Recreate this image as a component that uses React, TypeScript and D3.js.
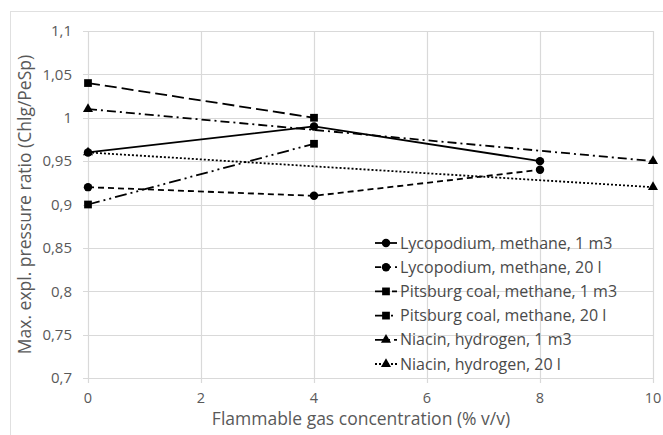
import * as d3 from "d3";
import React, { useEffect, useRef } from "react";

const seriesNames = [
  "Lycopodium, methane, 1 m3",
  "Lycopodium, methane, 20 l",
  "Pitsburg coal, methane, 1 m3",
  "Pitsburg coal, methane, 20 l",
  "Niacin, hydrogen, 1 m3",
  "Niacin, hydrogen, 20 l",
];
const lycoBigX = [0, 4, 8];
const lycoBigY = [0.96, 0.99, 0.95];
const lycoSmallX = [0, 4, 8];
const lycoSmallY = [0.92, 0.91, 0.94];
const coalBigX = [0, 4];
const coalBigY = [1.04, 1.0];
const coalSmallX = [0, 4];
const coalSmallY = [0.9, 0.97];
const niacinBigX = [0, 10];
const niacinBigY = [1.01, 0.95];
const niacinSmallX = [0, 10];
const niacinSmallY = [0.96, 0.92];

const xTicks = [0, 2, 4, 6, 8, 10];
const yTicks = [0.7, 0.75, 0.8, 0.85, 0.9, 0.95, 1, 1.05, 1.1];

const markers = ["circle", "circle", "square", "square", "triangle", "triangle"];
const dashes = ["", "6 4", "12 5", "12 4 2 4 2 4", "9 4 2 4", "2 2"];

const App: React.FC = () => {
  const ref = useRef<SVGSVGElement>(null);

  useEffect(() => {
    if (!ref.current) return;
    const width = 663;
    const height = 435;
    const svg = d3.select(ref.current).attr("width", width).attr("height", height);
    svg.selectAll("*").remove();

    const font = "'Open Sans', sans-serif";
    const grid = "#d9d9d9";
    const textColor = "#595959";

    svg.append("rect")
      .attr("x", 10.5).attr("y", 11.5)
      .attr("width", 660).attr("height", 430)
      .attr("fill", "white").attr("stroke", "#e0e0e0");

    const x = d3.scaleLinear().domain([0, 10]).range([88, 653]);
    const y = d3.scaleLinear().domain([0.7, 1.1]).range([378, 31]);

    const g = svg.append("g");

    // grid
    g.selectAll(".hg").data(yTicks).enter().append("line")
      .attr("x1", x(0) - 5).attr("x2", x(10))
      .attr("y1", d => Math.round(y(d)) + 0.5).attr("y2", d => Math.round(y(d)) + 0.5)
      .attr("stroke", grid).attr("stroke-width", 1.2);
    g.selectAll(".vg").data(xTicks).enter().append("line")
      .attr("y1", y(1.1)).attr("y2", y(0.7) + 5)
      .attr("x1", d => Math.round(x(d)) + 0.5).attr("x2", d => Math.round(x(d)) + 0.5)
      .attr("stroke", grid).attr("stroke-width", 1.2);

    // tick labels
    const fmt = (v: number) => d3.format("")(+v.toFixed(2)).replace(".", ",");
    g.selectAll(".yl").data(yTicks).enter().append("text")
      .attr("x", 72).attr("y", d => y(d))
      .attr("dy", "0.35em").attr("text-anchor", "end")
      .attr("font-family", font).attr("font-size", 15).attr("fill", textColor)
      .text(d => fmt(d));
    g.selectAll(".xl").data(xTicks).enter().append("text")
      .attr("x", d => x(d)).attr("y", 398)
      .attr("dy", "0.35em").attr("text-anchor", "middle")
      .attr("font-family", font).attr("font-size", 14.5).attr("fill", textColor)
      .text(d => String(d));

    svg.append("text")
      .attr("x", 361).attr("y", 419).attr("dy", "0.35em")
      .attr("text-anchor", "middle")
      .attr("font-family", font).attr("font-size", 17.5).attr("fill", textColor)
      .text("Flammable gas concentration (% v/v)");
    svg.append("text")
      .attr("transform", `translate(25, ${y(0.9)}) rotate(-90)`)
      .attr("dy", "0.35em")
      .attr("text-anchor", "middle")
      .attr("font-family", font).attr("font-size", 17.5).attr("fill", textColor)
      .text("Max. expl. pressure ratio (Chlg/PeSp)");

    const xs = [lycoBigX, lycoSmallX, coalBigX, coalSmallX, niacinBigX, niacinSmallX];
    const ys = [lycoBigY, lycoSmallY, coalBigY, coalSmallY, niacinBigY, niacinSmallY];
    const series = seriesNames.map((name, i) => ({
      name,
      marker: markers[i],
      dash: dashes[i],
      points: xs[i].map((v, j) => [v, ys[i][j]] as [number, number]),
    }));

    const line = d3.line<[number, number]>().x(d => x(d[0])).y(d => y(d[1]));

    const symbolOf = (m: string) =>
      m === "circle" ? d3.symbolCircle : m === "square" ? d3.symbolSquare : d3.symbolTriangle;
    const sizeOf = (m: string) => (m === "circle" ? 56 : m === "square" ? 60 : 44);

    series.forEach(s => {
      g.append("path")
        .attr("d", line(s.points))
        .attr("fill", "none").attr("stroke", "black").attr("stroke-width", 1.8)
        .attr("stroke-dasharray", s.dash || null);
    });
    series.forEach(s => {
      g.selectAll(null).data(s.points).enter().append("path")
        .attr("d", d3.symbol().type(symbolOf(s.marker)).size(sizeOf(s.marker))())
        .attr("transform", d => `translate(${x(d[0])},${y(d[1])})`)
        .attr("fill", "black");
    });

    // legend
    const lg = svg.append("g");
    series.forEach((s, i) => {
      const ly = 243 + i * 24.2;
      lg.append("line")
        .attr("x1", 375).attr("x2", 397).attr("y1", ly).attr("y2", ly)
        .attr("stroke", "black").attr("stroke-width", 1.8)
        .attr("stroke-dasharray", s.dash || null);
      lg.append("path")
        .attr("d", d3.symbol().type(symbolOf(s.marker)).size(sizeOf(s.marker))())
        .attr("transform", `translate(386,${ly})`)
        .attr("fill", "black");
      lg.append("text")
        .attr("x", 400).attr("y", ly).attr("dy", "0.35em")
        .attr("font-family", font).attr("font-size", 16).attr("fill", "#4a4a4a")
        .text(s.name);
    });
  }, []);

  return <svg ref={ref} style={{ position: "absolute", left: 0, top: 0 }}></svg>;
};

export default App;
